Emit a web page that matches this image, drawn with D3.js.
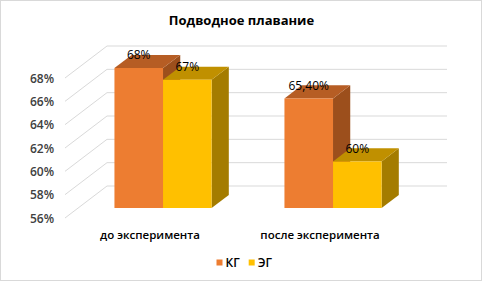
<!DOCTYPE html>
<html>
<head>
<meta charset="utf-8">
<script src="https://cdn.jsdelivr.net/npm/d3@7"></script>
<style>
  body { margin: 0; background: #fff; }
  svg { display: block; font-family: "Open Sans", sans-serif; }
</style>
</head>
<body>
<svg id="chart" width="483" height="282"></svg>
<script>
// --- Données ---
const categories = ["до эксперимента", "после эксперимента"];
const seriesNames = ["КГ", "ЭГ"];
const kgValues = [68, 65.4];
const egValues = [67, 60];
const valueLabels = [["68%", "67%"], ["65,40%", "60%"]];
const ticks = [56, 58, 60, 62, 64, 66, 68];

const colors = {
  "КГ": { front: "#ED7D31", top: "#B65D24", side: "#9C4F1C" },
  "ЭГ": { front: "#FFC000", top: "#C09000", side: "#A47C00" }
};

const svg = d3.select("#chart");

// cadre
svg.append("rect")
  .attr("x", 0.5).attr("y", 0.5)
  .attr("width", 481).attr("height", 280)
  .attr("fill", "#fff").attr("stroke", "#d9d9d9");

// titre
svg.append("text")
  .attr("x", 241.5).attr("y", 25)
  .attr("text-anchor", "middle")
  .attr("font-size", 13).attr("font-weight", 700)
  .attr("fill", "#000")
  .text("Подводное плавание");

// --- Échelles ---
const y = d3.scaleLinear().domain([56, 68]).range([218, 78]);
const x0 = d3.scaleBand().domain(categories).range([65, 405]).padding(0);
const x1 = d3.scaleBand().domain(seriesNames).range([0, x0.bandwidth()])
  .paddingInner(0).paddingOuter(0.75);

// projection oblique (z = 0 devant, 1 au fond)
const depthX = 42, depthY = -32;
const P = (x, v, z) => [x + z * depthX, y(v) + z * depthY];
const zFront = 0.31, zBack = 0.72;

// quadrillage + lignes diagonales du plancher/mur gauche
const grid = svg.append("g").attr("stroke", "#d9d9d9").attr("fill", "none");
ticks.forEach(t => {
  const a = P(65, t, 0), b = P(65, t, 1), c = P(405, t, 1);
  grid.append("path").attr("d", `M${a}L${b}L${c}`);
});

// étiquettes de l'axe
svg.append("g").selectAll("text")
  .data(ticks).join("text")
  .attr("x", 54).attr("y", d => y(d) + 4.5)
  .attr("text-anchor", "end")
  .attr("font-size", 12).attr("font-weight", 600)
  .attr("fill", "#404040")
  .text(d => d + "%");

// --- Barres 3D ---
const bars = [];
categories.forEach((cat, i) => {
  bars.push({ cat, s: "КГ", v: kgValues[i], label: valueLabels[i][0] });
  bars.push({ cat, s: "ЭГ", v: egValues[i], label: valueLabels[i][1] });
});

const poly = pts => "M" + pts.map(p => p.join(",")).join("L") + "Z";
const barG = svg.append("g");
bars.forEach(d => {
  const xa = x0(d.cat) + x1(d.s), xb = xa + x1.bandwidth();
  const c = colors[d.s];
  const g = barG.append("g");
  g.append("path").attr("fill", c.side)
    .attr("d", poly([P(xb, 56, zFront), P(xb, 56, zBack), P(xb, d.v, zBack), P(xb, d.v, zFront)]));
  g.append("path").attr("fill", c.top)
    .attr("d", poly([P(xa, d.v, zFront), P(xb, d.v, zFront), P(xb, d.v, zBack), P(xa, d.v, zBack)]));
  g.append("path").attr("fill", c.front)
    .attr("d", poly([P(xa, 56, zFront), P(xb, 56, zFront), P(xb, d.v, zFront), P(xa, d.v, zFront)]));
});

// étiquettes de données
svg.append("g").selectAll("text")
  .data(bars).join("text")
  .attr("x", d => P(x0(d.cat) + x1(d.s) + x1.bandwidth() / 2, d.v, zFront)[0])
  .attr("y", d => P(0, d.v, zBack)[1] + 4.5)
  .attr("text-anchor", "middle")
  .attr("font-size", 12)
  .attr("fill", "#000")
  .text(d => d.label);

// étiquettes des catégories
svg.append("g").selectAll("text")
  .data(categories).join("text")
  .attr("x", d => x0(d) + x0.bandwidth() / 2)
  .attr("y", 239)
  .attr("text-anchor", "middle")
  .attr("font-size", 11.5).attr("font-weight", 600)
  .attr("fill", "#000")
  .text(d => d);

// légende
const legend = svg.append("g");
let lx = 216.5;
seriesNames.forEach(s => {
  legend.append("rect").attr("x", lx).attr("y", 259.5)
    .attr("width", 6).attr("height", 6).attr("fill", colors[s].front);
  const t = legend.append("text").attr("x", lx + 9).attr("y", 267)
    .attr("font-size", 12).attr("font-weight", 600).attr("fill", "#000").text(s);
  lx += 9 + t.node().getComputedTextLength() + 9;
});
</script>
</body>
</html>
